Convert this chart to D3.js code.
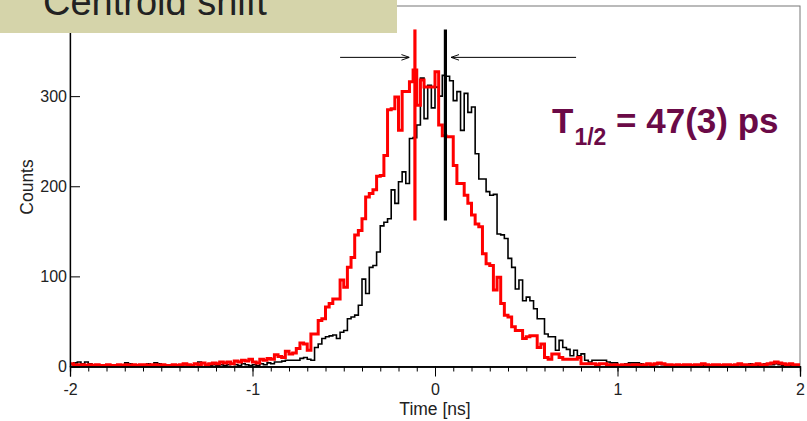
<!DOCTYPE html>
<html>
<head>
<meta charset="utf-8">
<script src="https://cdn.jsdelivr.net/npm/d3@7"></script>
<style>
  html, body { margin: 0; padding: 0; background: #fff; }
  svg { display: block; font-family: "Liberation Sans", Arial, Helvetica, sans-serif; }
</style>
</head>
<body>
<svg id="chart" width="807" height="421"></svg>
<script>
// ---- data ----
const binStart = -2;
const binWidth = 0.02;
const blackCounts = [
  2,4,5,3,5,3,2,2,1,2,
  1,2,1,2,2,4,3,1,2,1,
  2,3,2,4,3,2,1,2,1,2,
  1,2,2,1,3,5,4,2,1,2,
  1,2,1,2,3,2,1,3,2,1,
  2,1,3,2,4,3,5,5,6,7,
  7,7,7,9,10,8,7,21,25,31,
  33,34,35,31,38,40,53,55,57,68,
  97,81,110,112,127,156,160,164,196,181,
  205,216,203,253,254,268,320,275,312,287,
  310,300,323,322,317,295,305,262,303,282,
  288,236,208,208,194,190,191,147,146,142,
  120,110,86,96,73,77,73,64,53,53,
  36,33,33,18,29,21,19,12,18,12,
  14,7,5,7,7,7,7,5,4,4,
  1,1,3,4,4,4,3,2,2,1,
  2,3,2,1,2,1,2,2,1,2,
  1,1,2,1,2,1,2,1,2,1,
  1,2,1,2,1,2,3,2,1,2,
  3,2,2,3,2,1,2,1,2,1
];
const redCounts = [
  3,1,2,2,1,2,1,2,1,1,
  2,1,1,2,1,2,1,2,1,2,
  2,1,2,2,1,2,1,1,2,1,
  2,3,2,1,3,2,4,2,3,4,
  3,5,4,5,3,6,5,7,6,8,
  5,4,8,7,9,8,13,11,10,17,
  14,15,20,26,25,18,36,36,51,53,
  66,70,75,75,96,88,110,121,146,151,
  164,188,192,196,211,212,234,285,286,299,
  262,305,305,316,329,290,318,310,310,310,
  327,268,256,255,255,223,203,203,190,181,
  168,158,155,125,114,112,85,99,70,57,
  55,44,40,40,31,33,34,34,21,25,
  10,8,14,14,10,8,8,8,8,10,
  3,3,3,3,2,3,3,2,1,2,
  1,2,2,1,2,2,1,2,3,2,
  3,4,3,2,2,1,2,1,2,2,
  1,2,2,3,2,1,2,2,1,2,
  2,1,2,3,2,2,1,2,3,2,
  2,3,4,5,4,3,2,3,2,2
];
const xTicks = [-2, -1, 0, 1, 2];
const yTicks = [0, 100, 200, 300];
const centroids = [ {t: -0.11, color: "red"}, {t: 0.057, color: "black"} ];
const centroidSpan = [162, 374];       // counts range of centroid markers
const arrows = [ {from: -0.52, to: -0.14}, {from: 0.773, to: 0.088} ];
const arrowLevel = 343;                 // counts
const titleText = "Centroid shift";
const xLabel = "Time [ns]";
const yLabel = "Counts";

// ---- layout ----
const svg = d3.select("#chart");
const L = 70, R = 800, T = 6, B = 366.5;
const x = d3.scaleLinear().domain([-2, 2]).range([L, R]);
const y = d3.scaleLinear().domain([0, 400]).range([B, T]);
const fmt = d => String(d);

// frame
svg.append("rect").attr("x", L).attr("y", T).attr("width", R - L).attr("height", B - T)
  .attr("fill", "none").attr("stroke", "#777").attr("stroke-width", 1);

svg.append("defs").append("clipPath").attr("id", "clip")
  .append("rect").attr("x", L).attr("y", T).attr("width", R - L).attr("height", B - T + 2);

function histPoints(counts) {
  const pts = counts.map((c, i) => ({t: binStart + i * binWidth, c}));
  pts.push({t: binStart + counts.length * binWidth, c: counts[counts.length - 1]});
  return pts;
}
const line = d3.line().x(d => x(d.t)).y(d => y(d.c)).curve(d3.curveStepAfter);

const g = svg.append("g").attr("clip-path", "url(#clip)");
g.append("path").attr("d", line(histPoints(blackCounts)))
  .attr("fill", "none").attr("stroke", "#000").attr("stroke-width", 1.6);
g.append("path").attr("d", line(histPoints(redCounts)))
  .attr("fill", "none").attr("stroke", "#ff0000").attr("stroke-width", 3);

// centroid lines
svg.selectAll(".cent").data(centroids).enter().append("line")
  .attr("x1", d => x(d.t)).attr("x2", d => x(d.t))
  .attr("y1", y(centroidSpan[0])).attr("y2", y(centroidSpan[1]))
  .attr("stroke", d => d.color === "red" ? "#ff0000" : "#000").attr("stroke-width", 3.2);

// arrows
svg.select("defs").append("marker").attr("id", "arr")
  .attr("viewBox", "0 0 10 10").attr("refX", 10).attr("refY", 5)
  .attr("markerWidth", 8).attr("markerHeight", 8).attr("markerUnits", "userSpaceOnUse")
  .attr("orient", "auto")
  .append("path").attr("d", "M0,1.5 L10,5 L0,8.5").attr("fill", "none").attr("stroke", "#000").attr("stroke-width", 1.2);
svg.selectAll(".arw").data(arrows).enter().append("line")
  .attr("x1", d => x(d.from)).attr("x2", d => x(d.to))
  .attr("y1", y(arrowLevel)).attr("y2", y(arrowLevel))
  .attr("stroke", "#000").attr("stroke-width", 1).attr("marker-end", "url(#arr)");

// x axis
const xMinor = svg.append("g").attr("transform", `translate(0,${B})`)
  .call(d3.axisBottom(x).ticks(40).tickSize(5).tickFormat(""));
const xAxis = svg.append("g").attr("transform", `translate(0,${B})`)
  .call(d3.axisBottom(x).tickValues(xTicks).tickSize(10).tickPadding(7).tickFormat(fmt));
[xMinor, xAxis].forEach(a => {
  a.selectAll(".domain").attr("stroke", "#000").attr("stroke-width", 1.3);
  a.selectAll(".tick line").attr("stroke", "#000").attr("stroke-width", 1);
});
xAxis.selectAll("text").attr("font-size", 16).attr("fill", "#222")
  .attr("font-family", "'Liberation Sans', Arial, sans-serif");

// y axis
const yAxis = svg.append("g").attr("transform", `translate(${L},0)`)
  .call(d3.axisLeft(y).tickValues(yTicks).tickSize(-10).tickPadding(3).tickFormat(fmt));
yAxis.selectAll(".domain").attr("stroke", "#000").attr("stroke-width", 1.3);
yAxis.selectAll(".tick line").attr("stroke", "#000").attr("stroke-width", 1);
yAxis.selectAll("text").attr("font-size", 16).attr("fill", "#222")
  .attr("font-family", "'Liberation Sans', Arial, sans-serif");

// axis titles
svg.append("text").attr("x", x(0)).attr("y", 415).attr("text-anchor", "middle")
  .attr("font-size", 17.5).attr("fill", "#222").text(xLabel);
svg.append("text").attr("transform", `translate(33,187) rotate(-90)`).attr("text-anchor", "middle")
  .attr("font-size", 17.5).attr("fill", "#222").text(yLabel);

// half-life annotation
const ann = svg.append("text").attr("x", 552).attr("y", 133)
  .attr("font-weight", "bold").attr("fill", "#6b0a47").attr("font-size", 35);
ann.append("tspan").text("T");
ann.append("tspan").attr("font-size", 23).attr("dy", 12).attr("dx", 1).text("1/2");
ann.append("tspan").attr("dy", -12).text(" = 47(3) ps");

// title box (drawn on top)
svg.append("rect").attr("x", 0).attr("y", 0).attr("width", 397).attr("height", 33)
  .attr("fill", "#d5d4aa");
svg.append("text").attr("x", 43).attr("y", 15).attr("font-size", 38).attr("fill", "#222")
  .text(titleText);
</script>
</body>
</html>
